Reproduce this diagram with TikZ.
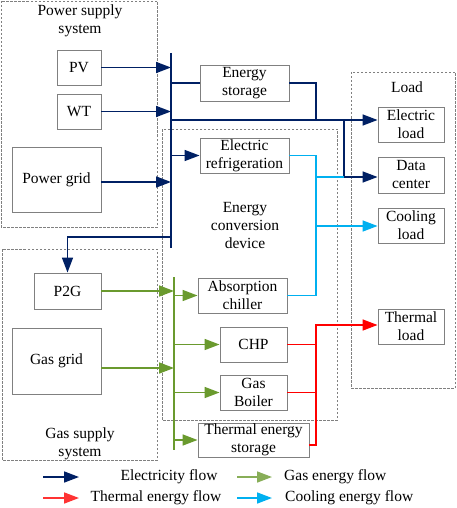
\documentclass[tikz,border=0pt]{standalone}
\usepackage{fontspec}
\setmainfont{Liberation Serif}
\usetikzlibrary{arrows.meta}
\definecolor{eblue}{RGB}{0,32,100}
\definecolor{ggreen}{RGB}{106,154,46}
\definecolor{tred}{RGB}{255,0,0}
\definecolor{ccyan}{RGB}{0,176,240}
\definecolor{bgray}{RGB}{128,128,128}
\begin{document}
\begin{tikzpicture}[x=1pt,y=-1pt,
  font=\fontsize{15.5}{18}\selectfont,
  box/.style={draw=bgray,line width=0.9pt,inner sep=0pt,align=center},
  grp/.style={draw=bgray,dashed,line width=0.7pt,dash pattern=on 2.5pt off 1.5pt},
  tip/.style={-{Triangle[length=15pt,width=11pt]}},
  elec/.style={draw=eblue,line width=1.6pt},
  gas/.style={draw=ggreen,line width=1.6pt},
  heat/.style={draw=tred,line width=1.6pt},
  cool/.style={draw=ccyan,line width=1.6pt},
  lbl/.style={inner sep=0pt,align=center}]
\useasboundingbox (0,0) rectangle (457,508);
% groups
\draw[grp] (1,1) rectangle (157,227);
\draw[grp] (2,249) rectangle (157,460);
\draw[grp] (162,129) rectangle (337,420);
\draw[grp] (351,72) rectangle (455,388);
\node[lbl] (pst) at (80,21) {Power supply\\system};
\node[lbl] (gst) at (80,444) {Gas supply\\system};
\node[lbl] (ldt) at (407,87) {Load};
\node[lbl] (ect) at (245,225) {Energy\\conversion\\device};
% boxes
\node[box,minimum width=44pt,minimum height=35pt] (PV) at (79,67.5) {PV};
\node[box,minimum width=44pt,minimum height=35pt] (WT) at (79,111.5) {WT};
\node[box,minimum width=89pt,minimum height=65pt] (PG) at (56.5,179.5) {Power grid};
\node[box,minimum width=89pt,minimum height=36pt] (ES) at (244.5,83) {Energy\\storage};
\node[box,minimum width=89pt,minimum height=35pt] (ER) at (244.5,155.5) {Electric\\refrigeration};
\node[box,minimum width=66pt,minimum height=35pt] (EL) at (411,124.5) {Electric\\load};
\node[box,minimum width=66pt,minimum height=36pt] (DC) at (411,175) {Data\\center};
\node[box,minimum width=66pt,minimum height=35pt] (CL) at (411,225.5) {Cooling\\load};
\node[box,minimum width=66pt,minimum height=35pt] (TL) at (411,326.5) {Thermal\\load};
\node[box,minimum width=67pt,minimum height=36pt] (P2G) at (67.5,291) {P2G};
\node[box,minimum width=89pt,minimum height=66pt] (GG) at (56.5,361) {Gas grid};
\node[box,minimum width=89pt,minimum height=35pt] (AC) at (242.5,295.5) {Absorption\\chiller};
\node[box,minimum width=67pt,minimum height=35pt] (CHP) at (253.5,344.5) {CHP};
\node[box,minimum width=67pt,minimum height=35pt] (GB) at (253.5,392.5) {Gas\\Boiler};
\node[box,minimum width=111pt,minimum height=34pt] (TES) at (253.5,440) {Thermal energy\\storage};
% buses
\coordinate (ebT) at (171,53);
\coordinate (ebB) at (171,248);
\coordinate (gbT) at (174,277);
\coordinate (gbB) at (174,450);
\draw[elec] (ebT) -- (ebB);
\draw[gas] (gbT) -- (gbB);
% electricity
\draw[elec,tip] (PV.east) -- (PV.east -| ebT);
\draw[elec,tip] (WT.east) -- (WT.east -| ebT);
\coordinate (pgo) at (PG.east |- 0,182);
\draw[elec,tip] (pgo) -- (pgo -| ebT);
\draw[elec] (ES.west -| ebT) -- (ES.west);
\coordinate (esx) at (316,120);
\draw[elec] (ES.east) -| (esx);
\coordinate (mline) at (171,120);
\coordinate (dcx) at (344,120);
\draw[elec,tip] (mline) -- (mline -| EL.west);
\coordinate (dcy) at (344,177);
\draw[elec,tip] (dcx) -- (dcy) -- (dcy -| DC.west);
\draw[elec,tip] (ER.west -| ebT) -- (ER.west);
\coordinate (p2gy) at (171,237);
\draw[elec,tip] (p2gy) -| (P2G.north);
% cooling
\coordinate (cx) at (316,0);
\draw[cool] (ER.east) -- (ER.east -| cx) -- (cx |- AC.east) -- (AC.east);
\draw[cool] (cx |- dcy) -- (dcy);
\coordinate (cly) at (316,226);
\draw[cool,tip] (cly) -- (cly -| CL.west);
% gas
\draw[gas,tip] (P2G.east) -- (P2G.east -| gbT);
\coordinate (ggo) at (GG.east |- 0,368);
\draw[gas,tip] (ggo) -- (ggo -| gbT);
\draw[gas,tip] (gbT |- AC.west) -- (AC.west);
\draw[gas,tip] (gbT |- CHP.west) -- (CHP.west);
\draw[gas,tip] (gbT |- GB.west) -- (GB.west);
\draw[gas,tip] (gbT |- TES.west) -- (TES.west);
% heat
\coordinate (tesy) at (TES.east |- 0,445);
\coordinate (hty) at (316,325);
\draw[heat] (CHP.east) -- (CHP.east -| cx);
\draw[heat] (GB.east) -- (GB.east -| cx);
\draw[heat,tip] (tesy) -- (tesy -| cx) -- (hty) -- (hty -| TL.west);
% legend
\coordinate (l1a) at (43,477); \coordinate (l1b) at (79,477);
\coordinate (l2a) at (43,498); \coordinate (l2b) at (79,498);
\coordinate (l3a) at (237,477); \coordinate (l3b) at (272,477);
\coordinate (l4a) at (237,498); \coordinate (l4b) at (272,498);
\draw[elec,tip] (l1a) -- (l1b);
\draw[heat,tip,draw=tred!80!white] (l2a) -- (l2b);
\draw[gas,tip,draw=ggreen!80!white] (l3a) -- (l3b);
\draw[cool,tip] (l4a) -- (l4b);
\node[lbl] (t1) at (169,477) {Electricity flow};
\node[lbl] (t2) at (156,498) {Thermal energy flow};
\node[lbl,anchor=west] (t3) at (284,477) {Gas energy flow};
\node[lbl,anchor=west] (t4) at (285,498) {Cooling energy flow};
\end{tikzpicture}
\end{document}
